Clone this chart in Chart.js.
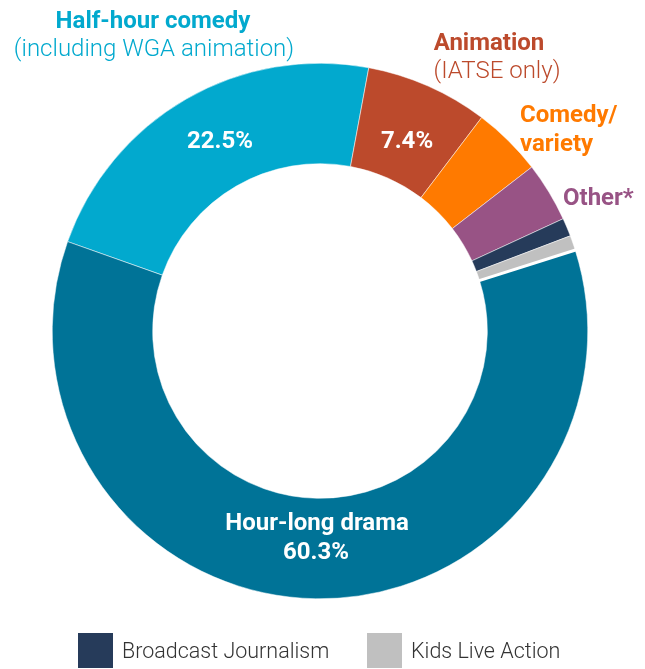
<!DOCTYPE html>
<html><head><meta charset="utf-8">
<script src="https://cdn.jsdelivr.net/npm/chart.js@4/dist/chart.umd.min.js"></script>
<style>html,body{margin:0;padding:0;background:#fff;}#wrap{width:645px;height:669px;position:relative;}</style>
</head><body><div id="wrap"><canvas id="c" width="645" height="669"></canvas></div>
<script>
const categories = ["Half-hour comedy", "Animation", "Comedy/variety", "Other*", "Broadcast Journalism", "Kids Live Action", "Hour-long drama"];
const shares = [22.5, 7.4, 4.2, 3.6, 1.1, 0.9, 60.3];
const colors = ["#02A9CE", "#BC4A2C", "#FF7A00", "#985385", "#263B5A", "#C0C0C0", "#007397"];
const legendItems = ["Broadcast Journalism", "Kids Live Action"];

const FONT = "Roboto, 'Noto Sans', sans-serif";

const gapPlugin = {
  id: 'gap',
  afterDatasetsDraw(chart) {
    const arc = chart.getDatasetMeta(0).data[6];
    const a = arc.startAngle;
    const ctx = chart.ctx;
    ctx.save();
    ctx.strokeStyle = "#fff";
    ctx.lineWidth = 3;
    ctx.beginPath();
    ctx.moveTo(arc.x + Math.cos(a) * (arc.innerRadius - 2), arc.y + Math.sin(a) * (arc.innerRadius - 2));
    ctx.lineTo(arc.x + Math.cos(a) * (arc.outerRadius + 2), arc.y + Math.sin(a) * (arc.outerRadius + 2));
    ctx.stroke();
    ctx.restore();
  }
};

const labelPlugin = {
  id: 'labels',
  afterDraw(chart) {
    const ctx = chart.ctx;
    ctx.save();
    function t(txt, x, y, color, weight, align) {
      ctx.font = weight + " 24px " + FONT;
      ctx.fillStyle = color;
      ctx.textAlign = align || 'center';
      ctx.textBaseline = 'alphabetic';
      ctx.fillText(txt, x, y);
    }
    t("Half-hour comedy", 153, 28, colors[0], "bold");
    t("(including WGA animation)", 154, 56, colors[0], "300");
    t("Animation", 489, 50, colors[1], "bold");
    t("(IATSE only)", 497, 78, colors[1], "300");
    t("Comedy/", 520, 122, colors[2], "bold", "left");
    t("variety", 520, 151, colors[2], "bold", "left");
    t("Other*", 563, 205, colors[3], "bold", "left");
    const fmt = v => v.toFixed(1) + "%";
    t(fmt(shares[0]), 220, 148, "#fff", "bold");
    t(fmt(shares[1]), 407, 148, "#fff", "bold");
    t(categories[6], 317, 530, "#fff", "bold");
    t(fmt(shares[6]), 316, 559, "#fff", "bold");
    const lx = [78, 367];
    legendItems.forEach((name, i) => {
      const idx = categories.indexOf(name);
      ctx.fillStyle = colors[idx];
      ctx.fillRect(lx[i], 633, 35, 35);
      ctx.font = "300 21.5px " + FONT;
      ctx.fillStyle = "#333";
      ctx.textAlign = 'left';
      ctx.textBaseline = 'alphabetic';
      ctx.fillText(name, lx[i] + 44, 658);
    });
    ctx.restore();
  }
};

new Chart(document.getElementById('c'), {
  type: 'doughnut',
  data: {
    labels: categories,
    datasets: [{
      data: shares,
      backgroundColor: colors,
      borderColor: "#fff",
      borderWidth: 0.5,
      hoverOffset: 0
    }]
  },
  options: {
    responsive: false,
    animation: false,
    rotation: -70.5,
    cutout: '62.5%',
    layout: { padding: { left: 52, right: 57, top: 63, bottom: 70 } },
    plugins: { legend: { display: false }, tooltip: { enabled: false } }
  },
  plugins: [gapPlugin, labelPlugin]
});
</script>
</body></html>
